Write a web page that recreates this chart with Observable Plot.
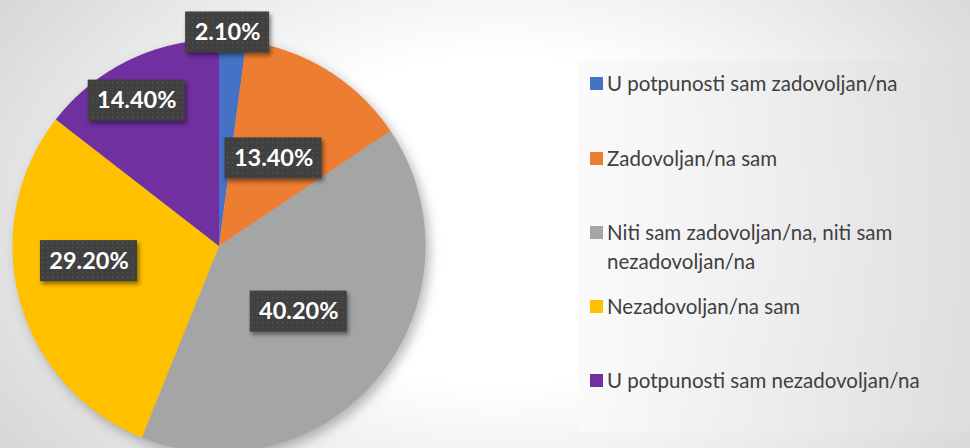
<!DOCTYPE html>
<html><head><meta charset="utf-8">
<script src="https://cdn.jsdelivr.net/npm/d3@7"></script>
<script src="https://cdn.jsdelivr.net/npm/@observablehq/plot@0.6"></script>
<style>
html,body{margin:0;padding:0;background:#fff;}
#wrap{position:relative;width:970px;height:448px;overflow:hidden;
  background:radial-gradient(ellipse 640px 430px at 500px 220px, #ffffff 0%, #ffffff 38%, #d2d2d2 100%);}
#chart{position:absolute;left:0;top:0;}
#legend{position:absolute;left:578px;top:61px;width:392px;height:371px;
  background:linear-gradient(to right, rgba(250,250,250,0.9), rgba(222,222,222,0.85));
  font-family:Lato,"Open Sans",sans-serif;font-size:20.5px;color:#404040;}
.item{position:absolute;left:29px;line-height:29px;white-space:nowrap;}
.sw{position:absolute;left:-17px;top:8px;width:13px;height:13px;}
</style></head>
<body>
<div id="wrap"><div id="chart"></div><div id="legend"></div></div>
<script>
const categories = [
  "U potpunosti sam zadovoljan/na",
  "Zadovoljan/na sam",
  "Niti sam zadovoljan/na, niti sam nezadovoljan/na",
  "Nezadovoljan/na sam",
  "U potpunosti sam nezadovoljan/na"
];
const values = [2.1, 13.4, 40.2, 29.2, 14.4];
const valueLabels = ["2.10%", "13.40%", "40.20%", "29.20%", "14.40%"];
const colors = ["#4472C4", "#ED7D31", "#A5A5A5", "#FFC000", "#7030A0"];
const legendLines = [
  ["U potpunosti sam zadovoljan/na"],
  ["Zadovoljan/na sam"],
  ["Niti sam zadovoljan/na, niti sam", "nezadovoljan/na"],
  ["Nezadovoljan/na sam"],
  ["U potpunosti sam nezadovoljan/na"]
];

// layout (label placement like Excel "best fit")
const labelRadius = [1.035, 0.5, 0.5, 0.634, 0.809];
const labelAngleShift = [-1.5, 0, 0.4, 8.5, -3.4];
const legendTops = [8, 83, 157, 231, 305];

const R_PX = 206.5, CX = 218.5, CY = 245.5;
const total = d3.sum(values);
const pxUnit = 1 / R_PX;

const slicePts = [];
const labelData = [];
let cum = 0;
values.forEach((v, i) => {
  const a0 = cum / total * 2 * Math.PI;
  const a1 = (cum + v) / total * 2 * Math.PI;
  cum += v;
  slicePts.push({cat: categories[i], x: 0, y: 0});
  const n = Math.max(4, Math.ceil((a1 - a0) / (Math.PI / 720)));
  for (let k = 0; k <= n; k++) {
    const a = a0 + (a1 - a0) * k / n;
    slicePts.push({cat: categories[i], x: Math.sin(a), y: Math.cos(a)});
  }
  slicePts.push({cat: categories[i], x: 0, y: 0});
  const am = (a0 + a1) / 2 + labelAngleShift[i] * Math.PI / 180;
  const r = labelRadius[i];
  const lx = r * Math.sin(am), ly = r * Math.cos(am);
  const w = (13 * valueLabels[i].length + 19) * pxUnit;
  const h = 41 * pxUnit;
  labelData.push({label: valueLabels[i], x: lx, y: ly,
    x1: lx - w / 2, x2: lx + w / 2, y1: ly - h / 2, y2: ly + h / 2});
});

const plot = Plot.plot({
  width: 970,
  height: 448,
  margin: 0,
  style: {background: "transparent", overflow: "visible"},
  x: {domain: [-1, 1], range: [CX - R_PX, CX + R_PX], axis: null},
  y: {domain: [-1, 1], range: [CY + R_PX, CY - R_PX], axis: null},
  color: {domain: categories, range: colors},
  marks: [
    Plot.line(slicePts, {x: "x", y: "y", z: "cat", fill: "cat", stroke: "none"}),
    Plot.rect(labelData, {x1: "x1", x2: "x2", y1: "y1", y2: "y2", fill: "url(#dots)"}),
    Plot.text(labelData, {x: "x", y: "y", text: "label", fill: "white",
      fontSize: 23.5, fontWeight: "bold", fontFamily: "Lato, 'Open Sans', sans-serif"})
  ]
});
document.getElementById("chart").appendChild(plot);

const svg = d3.select(plot);
const defs = svg.insert("defs", ":first-child");
const pat = defs.append("pattern").attr("id", "dots").attr("patternUnits", "userSpaceOnUse")
  .attr("width", 5).attr("height", 5);
pat.append("rect").attr("width", 5).attr("height", 5).attr("fill", "#404040");
pat.append("rect").attr("x", 2).attr("y", 2).attr("width", 1.2).attr("height", 1.2).attr("fill", "#585858");
svg.select('g[aria-label="line"]').style("filter", "drop-shadow(4px 5px 6px rgba(0,0,0,0.28))");
svg.select('g[aria-label="rect"]').style("filter", "drop-shadow(2px 3px 2px rgba(0,0,0,0.45))");

const legend = d3.select("#legend");
categories.forEach((c, i) => {
  const it = legend.append("div").attr("class", "item").style("top", legendTops[i] + "px");
  it.append("div").attr("class", "sw").style("background", colors[i]);
  it.html(it.html() + legendLines[i].join("<br>"));
});
</script>
</body></html>
